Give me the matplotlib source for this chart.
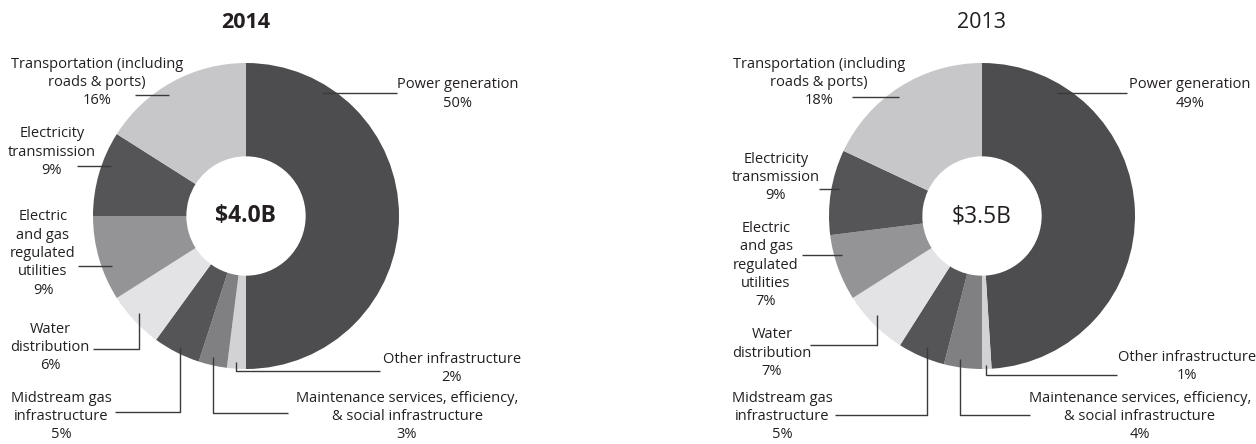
import matplotlib
matplotlib.use('Agg')
import matplotlib.pyplot as plt

plt.rcParams['font.family'] = ['Open Sans', 'DejaVu Sans']

# slices in drawing order, clockwise from 12 o'clock
categories = ['Power generation', 'Other infrastructure',
              'Maintenance services, efficiency,\n& social infrastructure',
              'Midstream gas\ninfrastructure', 'Water\ndistribution',
              'Electric\nand gas\nregulated\nutilities',
              'Electricity\ntransmission',
              'Transportation (including\nroads & ports)']
share_2014 = [50, 2, 3, 5, 6, 9, 9, 16]
share_2013 = [49, 1, 4, 5, 7, 7, 9, 18]
totals = ['$4.0B', '$3.5B']
years = ['2014', '2013']

colors = ['#4d4d4f', '#d2d2d4', '#808083', '#555557', '#e3e3e5',
          '#949497', '#555557', '#c7c7c9']

# label layout (pixel coordinates): text centre x, y and leader line path
layout_2014 = [
    (458, 94, [(322, 93), (397, 93)]),
    (452, 368.5, [(380, 371), (236, 371), (236, 362)]),
    (407, 416.5, [(288, 413), (213, 413), (213, 357)]),
    (61, 416.5, [(115, 412), (180, 412), (180, 347)]),
    (50, 347.5, [(93, 349), (139, 349), (139, 313)]),
    (43, 253.5, [(78, 266), (112, 266)]),
    (52, 152, [(77, 166), (111, 166)]),
    (97, 82.5, [(135, 95), (169, 95)]),
]
layout_2013 = [
    (1190, 94, [(1057, 93), (1127, 93)]),
    (1187, 366.5, [(1117, 375), (986, 375), (986, 365)]),
    (1140, 416.5, [(1030, 415), (960, 415), (960, 359)]),
    (782, 416.5, [(835, 415), (927, 415), (927, 347)]),
    (772, 353, [(810, 345), (877, 345), (877, 315)]),
    (766, 265, [(802, 255), (842, 255)]),
    (776, 177.5, [(819, 189), (839, 189)]),
    (819, 82.5, [(852, 97), (899, 97)]),
]

fig = plt.figure(figsize=(12.56, 4.44), dpi=100)
ax = fig.add_axes([0, 0, 1, 1])

charts = [
    (share_2014, layout_2014, (246, 216), 'bold'),
    (share_2013, layout_2013, (982, 216), 'normal'),
]
radius = 153
hole = 0.39

for i, (shares, layout, center, weight) in enumerate(charts):
    # y axis is inverted below, so counterclock=True draws clockwise on screen
    ax.pie(shares, colors=colors, startangle=-90, counterclock=True,
           center=center, radius=radius,
           wedgeprops=dict(width=radius * (1 - hole), linewidth=0))
    ax.text(center[0], center[1] - 194, years[i], ha='center', va='center',
            fontsize=15.5, fontweight=weight, color='#231f20')
    ax.text(center[0], center[1], totals[i], ha='center', va='center',
            fontsize=16.5, fontweight=weight, color='#231f20')
    for cat, val, (tx, ty, path) in zip(categories, shares, layout):
        ax.text(tx, ty, '%s\n%d%%' % (cat, val), ha='center', va='center',
                multialignment='center', fontsize=10.5, linespacing=1.3,
                color='#231f20')
        xs = [p[0] for p in path]
        ys = [p[1] for p in path]
        ax.plot(xs, ys, color='#3a3a3a', lw=1.0, solid_capstyle='butt')

ax.set_xlim(0, 1256)
ax.set_ylim(444, 0)
ax.set_aspect('equal')
ax.axis('off')

fig.savefig('out.png', dpi=100)
